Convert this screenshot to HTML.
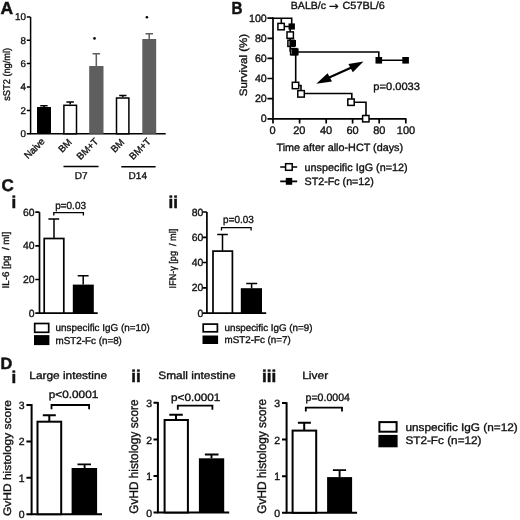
<!DOCTYPE html>
<html><head><meta charset="utf-8">
<style>
html,body{margin:0;padding:0;background:#fff;}
body{width:520px;height:520px;overflow:hidden;}
svg{display:block;}
text{font-family:"Liberation Sans",Arial,sans-serif;fill:#111;stroke:#111;stroke-width:0.35px;text-rendering:geometricPrecision;}
.b{font-weight:bold;stroke-width:0.5px;}
</style></head><body>
<svg width="520" height="520" viewBox="0 0 520 520">
<rect width="520" height="520" fill="#fff"/>

<!-- ================= PANEL A ================= -->
<g id="A">
<text class="b" x="0.6" y="13.6" font-size="17.5">A</text>
<g stroke="#000" stroke-width="1.5" fill="none">
 <path d="M30.6 16.9V134.5M30 133.8H165.7"/>
 <path d="M26.8 16.9H30.6M26.8 40.3H30.6M26.8 63.6H30.6M26.8 87H30.6M26.8 110.4H30.6M26.8 133.8H30.6"/>
</g>
<g font-size="9.8" text-anchor="end">
 <text x="26" y="20.3">10</text>
 <text x="26" y="43.7">8</text>
 <text x="26" y="67">6</text>
 <text x="26" y="90.4">4</text>
 <text x="26" y="113.8">2</text>
 <text x="26" y="137.2">0</text>
</g>
<text font-size="9.8" transform="translate(10.2 74.3) rotate(-90)" text-anchor="middle" textLength="53" lengthAdjust="spacingAndGlyphs">sST2 (ng/ml)</text>
<!-- bars -->
<rect x="37" y="107" width="14" height="26.8" fill="#000"/>
<path d="M44 107V105.8M40.2 105.8H47.6" stroke="#000" stroke-width="1.5"/>
<rect x="63.9" y="105.3" width="12.6" height="28.5" fill="#fff" stroke="#000" stroke-width="1.5"/>
<path d="M70.2 104.6V101.9M66.4 101.9H73.9" stroke="#000" stroke-width="1.5"/>
<rect x="89.2" y="66" width="14.3" height="67.8" fill="#5e5e5e"/>
<path d="M96.3 66V53.8M92.6 53.8H100.1" stroke="#5e5e5e" stroke-width="1.5"/>
<rect x="116.5" y="98" width="12.4" height="35.8" fill="#fff" stroke="#000" stroke-width="1.5"/>
<path d="M122.8 97.3V95.4M119.2 95.4H126.5" stroke="#000" stroke-width="1.5"/>
<rect x="142.3" y="39" width="13.9" height="94.8" fill="#5e5e5e"/>
<path d="M149.2 39V33.7M145.5 33.7H153" stroke="#5e5e5e" stroke-width="1.5"/>
<circle cx="94.5" cy="38.4" r="1.3" fill="#000"/>
<circle cx="146.9" cy="17.3" r="1.3" fill="#000"/>
<!-- x labels -->
<g font-size="9.6" text-anchor="end">
 <text transform="translate(45.4 142) rotate(-45)">Naive</text>
 <text transform="translate(72.4 142.8) rotate(-45)">BM</text>
 <text transform="translate(98.9 142) rotate(-45)">BM+T</text>
 <text transform="translate(124.9 142.8) rotate(-45)">BM</text>
 <text transform="translate(151.4 142) rotate(-45)">BM+T</text>
</g>
<path d="M63.5 166.6H98.5M121.3 166.8H155.6" stroke="#000" stroke-width="1.5"/>
<g font-size="10" text-anchor="middle">
 <text x="81.2" y="178.7">D7</text>
 <text x="137.8" y="178.7">D14</text>
</g>
</g>

<!-- ================= PANEL B ================= -->
<g id="B">
<text class="b" x="231.6" y="14.1" font-size="17.5" textLength="11" lengthAdjust="spacingAndGlyphs">B</text>
<text y="9.3" font-size="10.4"><tspan x="290.8" textLength="35.2" lengthAdjust="spacingAndGlyphs">BALB/c</tspan><tspan x="329" y="9.6" font-family="DejaVu Sans" font-size="11.5">→</tspan><tspan x="342.5" y="9.3" textLength="42.3" lengthAdjust="spacingAndGlyphs">C57BL/6</tspan></text>
<g stroke="#000" stroke-width="1.7" fill="none">
 <path d="M273 17.4V119.5M272.2 118.8H406.4"/>
 <path d="M267.4 18.2H273M267.4 38.3H273M267.4 58.4H273M267.4 78.5H273M267.4 98.6H273M267.4 118.8H273"/>
 <path d="M273 118.8V123.5M299.6 118.8V123.5M326.2 118.8V123.5M352.6 118.8V123.5M379.2 118.8V123.5M405.8 118.8V123.5"/>
</g>
<g font-size="10.7" text-anchor="end">
 <text x="266.8" y="21.8">100</text>
 <text x="266.8" y="41.9">80</text>
 <text x="266.8" y="62">60</text>
 <text x="266.8" y="82.1">40</text>
 <text x="266.8" y="102.2">20</text>
 <text x="266.8" y="122.3">0</text>
</g>
<g font-size="11" text-anchor="middle">
 <text x="272.6" y="134.3">0</text>
 <text x="299.3" y="134.3">20</text>
 <text x="326" y="134.3">40</text>
 <text x="352.6" y="134.3">60</text>
 <text x="379.3" y="134.3">80</text>
 <text x="406" y="134.3">100</text>
</g>
<text font-size="10.8" transform="translate(247 65) rotate(-90)" text-anchor="middle" textLength="62.3" lengthAdjust="spacingAndGlyphs">Survival (%)</text>
<text x="276.5" y="151.2" font-size="10.6" textLength="126.6" lengthAdjust="spacingAndGlyphs">Time after allo-HCT (days)</text>
<text x="373.3" y="90" font-size="10.6" textLength="46.7" lengthAdjust="spacingAndGlyphs">p=0.0033</text>
<!-- curves -->
<g stroke="#000" stroke-width="1.6" fill="none">
 <path d="M272.6 18.3H291.7V26.5M281.3 18.3V26.5H291.7M290.2 26.5V51.8M295.7 51.8V85.5H301V93.5H351.8V102.2H366V118.8"/>
 <path d="M294.8 52H378.8V60.3H405.6"/>
</g>
<!-- open markers (IgG) -->
<g fill="#fff" stroke="#000" stroke-width="1.5">
 <rect x="277.9" y="23.4" width="6.4" height="6.4"/>
 <rect x="287" y="31.9" width="6.4" height="6.4"/>
 <rect x="287.9" y="40.2" width="6.2" height="6.2"/>
 <rect x="290.6" y="48.6" width="6.2" height="6.2"/>
 <rect x="292.3" y="82.3" width="6.4" height="6.4"/>
 <rect x="297.8" y="90.6" width="6.5" height="6.5"/>
 <rect x="347.8" y="99" width="6.4" height="6.4"/>
 <rect x="362.6" y="115.5" width="6.4" height="6.4"/>
</g>
<!-- filled markers (ST2-Fc) -->
<g fill="#000">
 <rect x="288.5" y="23.4" width="6.4" height="6.2"/>
 <rect x="289.4" y="40" width="6.6" height="6.6"/>
 <rect x="291.6" y="48.4" width="7" height="7"/>
 <rect x="375.5" y="57" width="6.6" height="6.6"/>
 <rect x="402.3" y="57" width="6.6" height="6.6"/>
</g>
<!-- double arrow -->
<g fill="#000">
 <path d="M327 78.6L352 67.2" stroke="#000" stroke-width="2.2"/>
 <path d="M316.3 83.8L327.6 73.2L332 81.6Z"/>
 <path d="M363.5 61.5L348.4 64L352.8 72.2Z"/>
</g>
<!-- legend -->
<path d="M280.2 167H297.2M280.2 181.4H297.2" stroke="#000" stroke-width="1.6"/>
<rect x="285.6" y="163.7" width="6.6" height="6.6" fill="#fff" stroke="#000" stroke-width="1.5"/>
<rect x="285.8" y="177.9" width="6.4" height="6.9" fill="#000"/>
<text x="304.6" y="170.6" font-size="10.6" textLength="103.1" lengthAdjust="spacingAndGlyphs">unspecific IgG (n=12)</text>
<text x="304.6" y="185.3" font-size="10.6" textLength="69.2" lengthAdjust="spacingAndGlyphs">ST2-Fc (n=12)</text>
</g>

<!-- ================= PANEL C ================= -->
<g id="C">
<text class="b" x="1.4" y="191.4" font-size="17">C</text>
<text class="b" x="11.6" y="207.8" font-size="17">i</text>
<text class="b" x="168.6" y="207.8" font-size="17">ii</text>
<!-- C(i) -->
<g stroke="#000" stroke-width="1.7" fill="none">
 <path d="M39.5 212.2V313.8M38.8 313.1H97.7"/>
 <path d="M35.3 212.2H39.5M35.3 245.8H39.5M35.3 279.5H39.5M35.3 313.1H39.5"/>
</g>
<g font-size="10.4" text-anchor="end">
 <text x="34.6" y="215.7">60</text>
 <text x="34.6" y="249.3">40</text>
 <text x="34.6" y="283">20</text>
 <text x="34.6" y="316.6">0</text>
</g>
<text font-size="9.7" transform="translate(8.5 260.1) rotate(-90)" text-anchor="middle" textLength="56.6" lengthAdjust="spacingAndGlyphs">IL-6 [pg&#160; / ml]</text>
<rect x="44.2" y="238.5" width="19.6" height="74.6" fill="#fff" stroke="#000" stroke-width="1.7"/>
<path d="M54 238.5V219M48.4 219H59.2" stroke="#000" stroke-width="1.5"/>
<rect x="72.8" y="284.6" width="21" height="28.5" fill="#000"/>
<path d="M83.2 284.6V275.8M77.7 275.8H88.6" stroke="#000" stroke-width="1.5"/>
<path d="M53.8 215.6V212.6H83.4V215.6" stroke="#000" stroke-width="1.3" fill="none"/>
<text x="55.2" y="208.5" font-size="10.3" textLength="30.8" lengthAdjust="spacingAndGlyphs">p=0.03</text>
<rect x="34.7" y="323.5" width="14" height="8.8" fill="#fff" stroke="#000" stroke-width="1.7"/>
<rect x="34" y="335.1" width="15.4" height="10" fill="#000"/>
<text x="55.6" y="331.4" font-size="10" textLength="94.2" lengthAdjust="spacingAndGlyphs">unspecific IgG (n=10)</text>
<text x="55.6" y="343.7" font-size="10" textLength="66.3" lengthAdjust="spacingAndGlyphs">mST2-Fc (n=8)</text>
<!-- C(ii) -->
<g stroke="#000" stroke-width="1.7" fill="none">
 <path d="M206.9 212V313.8M206.2 313.1H266.2"/>
 <path d="M202.6 212H206.9M202.6 237.3H206.9M202.6 262.5H206.9M202.6 287.8H206.9M202.6 313.1H206.9"/>
</g>
<g font-size="10.4" text-anchor="end">
 <text x="203.2" y="215.5">80</text>
 <text x="203.2" y="240.8">60</text>
 <text x="203.2" y="266">40</text>
 <text x="203.2" y="291.3">20</text>
 <text x="203.2" y="316.6">0</text>
</g>
<text font-size="9.7" transform="translate(176.1 258.6) rotate(-90)" text-anchor="middle" textLength="59.6" lengthAdjust="spacingAndGlyphs">IFN-γ [pg&#160; / ml]</text>
<rect x="213" y="251.1" width="19.4" height="62" fill="#fff" stroke="#000" stroke-width="1.7"/>
<path d="M222.5 251V234.4M217.2 234.4H227.8" stroke="#000" stroke-width="1.5"/>
<rect x="240.8" y="288.2" width="21.2" height="24.9" fill="#000"/>
<path d="M251.6 288.2V283.4M246.2 283.4H257.2" stroke="#000" stroke-width="1.5"/>
<path d="M221.5 230.6V227.6H251.1V230.6" stroke="#000" stroke-width="1.3" fill="none"/>
<text x="223.1" y="223.2" font-size="10.3" textLength="30.7" lengthAdjust="spacingAndGlyphs">p=0.03</text>
<rect x="203.2" y="324.1" width="14.2" height="7.7" fill="#fff" stroke="#000" stroke-width="1.7"/>
<rect x="202.5" y="335.5" width="15.6" height="8.5" fill="#000"/>
<text x="224.5" y="330.6" font-size="9.8" textLength="88" lengthAdjust="spacingAndGlyphs">unspecific IgG (n=9)</text>
<text x="224.5" y="343" font-size="9.8" textLength="66.2" lengthAdjust="spacingAndGlyphs">mST2-Fc (n=7)</text>
</g>

<!-- ================= PANEL D ================= -->
<g id="D">
<text class="b" x="0.6" y="368.5" font-size="16.3">D</text>
<text class="b" x="11.6" y="382.9" font-size="17">i</text>
<text class="b" x="131.3" y="382.3" font-size="17">ii</text>
<text class="b" x="262" y="382.3" font-size="17">iii</text>
<g font-size="10.7">
 <text x="29.3" y="379" textLength="77.9" lengthAdjust="spacingAndGlyphs">Large intestine</text>
 <text x="158.3" y="378.9" textLength="77.3" lengthAdjust="spacingAndGlyphs">Small intestine</text>
 <text x="302.2" y="378.9" textLength="26" lengthAdjust="spacingAndGlyphs">Liver</text>
</g>
<!-- D(i) -->
<g stroke="#000" stroke-width="2" fill="none">
 <path d="M31.6 404V515.2M30.6 514.2H102"/>
 <path d="M26.4 405H31.6M26.4 441.4H31.6M26.4 477.8H31.6M26.4 514.2H31.6"/>
</g>
<g font-size="10.5" text-anchor="end">
 <text x="24.6" y="408.9">3</text>
 <text x="24.6" y="445.3">2</text>
 <text x="24.6" y="481.7">1</text>
 <text x="24.6" y="518.1">0</text>
</g>
<text font-size="11" transform="translate(10.8 458.1) rotate(-90)" text-anchor="middle" textLength="116" lengthAdjust="spacingAndGlyphs">GvHD histology score</text>
<rect x="37.5" y="421.7" width="23.7" height="92.5" fill="#fff" stroke="#000" stroke-width="2"/>
<path d="M49.3 421.7V415.2M42.8 415.2H55.8" stroke="#000" stroke-width="2"/>
<rect x="71.6" y="468" width="25.5" height="46.2" fill="#000"/>
<path d="M84.6 468V464.4M77.5 464.4H91" stroke="#000" stroke-width="1.9"/>
<path d="M51.5 409.2V405H89.1V409.2" stroke="#000" stroke-width="1.8" fill="none"/>
<text x="48.8" y="397.6" font-size="10.6" textLength="49.5" lengthAdjust="spacingAndGlyphs">p&lt;0.0001</text>
<!-- D(ii) -->
<g stroke="#000" stroke-width="2" fill="none">
 <path d="M157.9 402V513.5M157 512.5H229.2"/>
 <path d="M153.5 402.8H157.9M153.5 439.4H157.9M153.5 476H157.9M153.5 512.5H157.9"/>
</g>
<g font-size="10.5" text-anchor="end">
 <text x="152.1" y="407">3</text>
 <text x="152.1" y="443.6">2</text>
 <text x="152.1" y="480.2">1</text>
 <text x="152.1" y="516.7">0</text>
</g>
<text font-size="12.5" transform="translate(138.3 456.6) rotate(-90)" text-anchor="middle" textLength="114.2" lengthAdjust="spacingAndGlyphs">GvHD histology score</text>
<rect x="164.6" y="420" width="23.3" height="92.5" fill="#fff" stroke="#000" stroke-width="2"/>
<path d="M176 420V414.8M169.3 414.8H182.8" stroke="#000" stroke-width="2"/>
<rect x="198.9" y="458.3" width="25.3" height="54.2" fill="#000"/>
<path d="M211.5 458.3V454.5M204.9 454.5H218.5" stroke="#000" stroke-width="1.9"/>
<path d="M177.8 409.8V405.6H212.4V409.8" stroke="#000" stroke-width="1.8" fill="none"/>
<text x="171.1" y="400.5" font-size="10.6" textLength="49.3" lengthAdjust="spacingAndGlyphs">p&lt;0.0001</text>
<!-- D(iii) -->
<g stroke="#000" stroke-width="2" fill="none">
 <path d="M286.6 402.2V513.8M285.6 512.8H357.1"/>
 <path d="M282 403H286.6M282 439.6H286.6M282 476.2H286.6M282 512.8H286.6"/>
</g>
<g font-size="10.5" text-anchor="end">
 <text x="280.2" y="407">3</text>
 <text x="280.2" y="443.6">2</text>
 <text x="280.2" y="480.2">1</text>
 <text x="280.2" y="516.8">0</text>
</g>
<text font-size="12.5" transform="translate(266.3 456.3) rotate(-90)" text-anchor="middle" textLength="115" lengthAdjust="spacingAndGlyphs">GvHD histology score</text>
<rect x="292.6" y="430.6" width="23.6" height="82.2" fill="#fff" stroke="#000" stroke-width="2"/>
<path d="M304.2 430.6V422.8M297.9 422.8H310.9" stroke="#000" stroke-width="2"/>
<rect x="327.1" y="477.1" width="25" height="35.7" fill="#000"/>
<path d="M339.6 477.1V470.1M332.9 470.1H346.1" stroke="#000" stroke-width="1.9"/>
<path d="M305.8 411.4V407.7H342V411.4" stroke="#000" stroke-width="1.8" fill="none"/>
<text x="305.5" y="401.3" font-size="10.6" textLength="44.5" lengthAdjust="spacingAndGlyphs">p=0.0004</text>
<!-- legend -->
<rect x="379.4" y="422.1" width="17.2" height="9.6" fill="#fff" stroke="#000" stroke-width="2"/>
<rect x="378.4" y="434.9" width="19.2" height="12.4" fill="#000"/>
<text x="405.4" y="430.8" font-size="11" textLength="112.3" lengthAdjust="spacingAndGlyphs">unspecific IgG (n=12)</text>
<text x="405.4" y="443.9" font-size="11" textLength="76.1" lengthAdjust="spacingAndGlyphs">ST2-Fc (n=12)</text>
</g>

</svg>
</body></html>
